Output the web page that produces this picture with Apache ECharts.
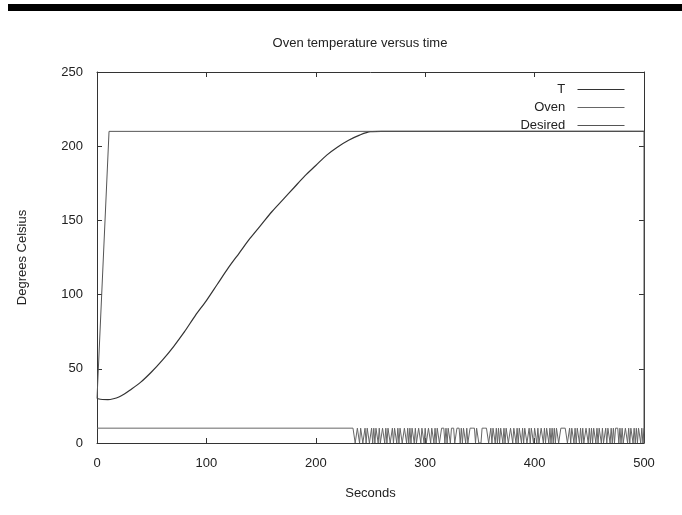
<!DOCTYPE html>
<html>
<head>
<meta charset="utf-8">
<script src="https://cdn.jsdelivr.net/npm/echarts@6/dist/echarts.min.js"></script>
<style>html,body{margin:0;padding:0;background:#fff;}#c{width:682px;height:515px;}</style>
</head>
<body>
<div id="c"></div>
<script>
// ---- data ----
var title = 'Oven temperature versus time';
var xTitle = 'Seconds';
var yTitle = 'Degrees Celsius';
var seriesNames = ['T', 'Oven', 'Desired'];

// Temperature T (time in s, value in °C)
var tTimes = [0, 5, 10, 15, 20, 25, 30, 40, 50, 60, 70, 80, 90, 100, 110, 120, 130, 140, 150, 160, 170, 180, 190, 200, 210, 220, 230, 240, 250, 260, 500];
var tVals  = [30, 29.3, 29.2, 29.8, 31, 33, 35.5, 41, 48, 56, 65, 75, 86, 96, 107, 118, 128, 138, 147, 156, 164, 172, 180, 187, 194, 199.5, 204, 207.5, 209.8, 210, 210];

// Desired set point
var dTimes = [0, 11, 500, 500];
var dVals  = [30, 210, 210, 0];

// Oven on/off (0 = off, 10 = on); on until 234 s, then per-second values 235..500
var ovenHeadTimes = [0, 234];
var ovenHeadVals  = [10, 10];
var ovenTailStart = 235;
var ovenTailVals = [
  10,0,0,10,10,0,10,10,0,0,10,0,10,10,0,0,10,0,10,0,
  10,10,0,10,0,0,10,10,0,10,0,10,10,0,0,10,0,10,10,0,
  10,0,10,10,0,0,10,10,0,10,0,10,0,10,10,0,10,0,0,10,
  10,0,10,10,0,10,0,0,10,10,0,10,10,0,10,0,10,10,0,0,
  10,10,10,0,10,0,10,10,0,10,10,10,0,0,10,10,10,0,10,0,
  10,10,0,10,0,0,10,10,10,10,10,0,10,10,0,0,0,10,10,10,
  10,10,10,0,0,10,0,10,10,0,10,0,10,0,10,10,0,10,0,10,
  10,0,0,10,10,0,10,10,0,10,0,10,10,0,10,0,10,10,0,0,
  10,0,10,10,0,10,10,0,10,0,0,10,10,0,10,0,10,10,0,10,
  0,10,0,10,0,10,10,0,0,10,10,10,10,10,10,0,0,10,0,10,
  10,0,10,0,10,10,0,10,0,10,0,0,10,10,0,10,0,10,0,10,
  10,0,10,0,10,10,0,10,0,0,10,0,10,10,0,10,0,10,0,10,
  10,10,0,10,0,10,0,0,10,10,0,10,0,10,10,0,10,0,10,0,
  10,10,0,10,0,10
];

var xMin = 0, xMax = 500, xStep = 100;
var yMin = 0, yMax = 250, yStep = 50;

// ---- build ----
function pairs(ts, vs) { return ts.map(function (t, i) { return [t, vs[i]]; }); }
var tData = pairs(tTimes, tVals);
var dData = pairs(dTimes, dVals);
var ovenData = pairs(ovenHeadTimes, ovenHeadVals).concat(
  ovenTailVals.map(function (v, i) { return [ovenTailStart + i, v]; })
);

var font = 'Liberation Sans, Arial, sans-serif';
var txt = '#222';
var frame = '#333';

var chart = echarts.init(document.getElementById('c'), null, { renderer: 'canvas' });
function mirrorAxis(extra) {
  return Object.assign({
    type: 'value',
    axisLabel: { show: false },
    splitLine: { show: false },
    axisLine: { show: true, onZero: false, lineStyle: { color: frame } },
    axisTick: { show: true, inside: true, length: 5, lineStyle: { color: frame } }
  }, extra);
}
chart.setOption({
  animation: false,
  backgroundColor: '#fff',
  title: {
    text: title, left: 355, textAlign: 'center', top: 32,
    textStyle: { fontFamily: font, fontSize: 13, fontWeight: 'normal', color: txt }
  },
  graphic: [{
    type: 'rect', left: 8, top: 4, shape: { width: 674, height: 7 },
    style: { fill: '#000' }, silent: true
  }],
  legend: {
    orient: 'vertical', right: 52, top: 78, align: 'right',
    itemWidth: 47, itemHeight: 14, itemGap: 5,
    data: seriesNames,
    itemStyle: { opacity: 0 },
    lineStyle: { width: 1 },
    formatter: function (n) { return n + '  '; },
    textStyle: { fontFamily: font, fontSize: 13, color: txt }
  },
  grid: { left: 97, right: 38, top: 72, bottom: 72, show: false },
  xAxis: [{
    type: 'value', min: xMin, max: xMax, interval: xStep,
    name: xTitle, nameLocation: 'middle', nameGap: 44,
    nameTextStyle: { fontFamily: font, fontSize: 13, color: txt },
    axisLine: { show: true, onZero: false, lineStyle: { color: frame } },
    axisTick: { show: true, inside: true, length: 5, lineStyle: { color: frame } },
    axisLabel: { fontFamily: font, fontSize: 13, color: txt, margin: 14 },
    splitLine: { show: false }
  }, mirrorAxis({ position: 'top', min: xMin, max: xMax, interval: xStep })],
  yAxis: [{
    type: 'value', min: yMin, max: yMax, interval: yStep,
    name: yTitle, nameLocation: 'middle', nameGap: 68, nameRotate: 90,
    nameTextStyle: { fontFamily: font, fontSize: 13, color: txt },
    axisLine: { show: true, onZero: false, lineStyle: { color: frame } },
    axisTick: { show: true, inside: true, length: 5, lineStyle: { color: frame } },
    axisLabel: { fontFamily: font, fontSize: 13, color: txt, margin: 14 },
    splitLine: { show: false }
  }, mirrorAxis({ position: 'right', min: yMin, max: yMax, interval: yStep })],
  series: [
    { name: 'T', type: 'line', data: tData, symbol: 'none', smooth: 0.3,
      lineStyle: { color: '#333', width: 1.2 }, itemStyle: { color: '#333' } },
    { name: 'Oven', type: 'line', data: ovenData, symbol: 'none',
      lineStyle: { color: '#666', width: 1 }, itemStyle: { color: '#666' } },
    { name: 'Desired', type: 'line', data: dData, symbol: 'none',
      lineStyle: { color: '#555', width: 1 }, itemStyle: { color: '#555' } }
  ]
});
</script>
</body>
</html>
